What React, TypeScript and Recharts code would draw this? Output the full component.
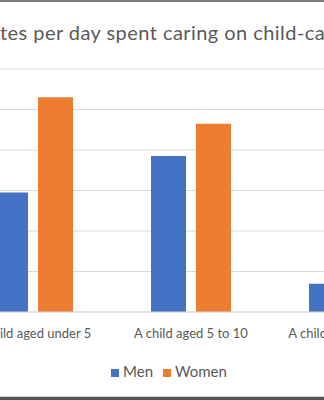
import React, { useMemo } from 'react';
import { BarChart, Bar, XAxis, YAxis, CartesianGrid, Legend } from 'recharts';

// values (minutes per day)
const categories = ['A child aged under 5', 'A child aged 5 to 10', 'A child aged 11 to 15'];
const menMinutes = [59, 77, 14];
const womenMinutes = [106, 93, 25];
const yTicks = [0, 20, 40, 60, 80, 100, 120];
const title = 'Minutes per day spent caring on child-care activities';
const hiddenTitlePart = 'Minu';

const FONT = 'Lato, "Open Sans", sans-serif';
const TEXT = '#595959';
const GRID = '#d9d9d9';
const TITLE_SIZE = 20;
const TITLE_SPACING = 0.45;

const data = categories.map((name, i) => ({ name, Men: menMinutes[i], Women: womenMinutes[i] }));

export default function App() {
  // the screenshot is cropped: the start of the title sits just off the left edge
  const titleShift = useMemo(() => {
    const ctx = document.createElement('canvas').getContext('2d');
    if (!ctx) return 45;
    ctx.font = `${TITLE_SIZE}px Lato`;
    return ctx.measureText(hiddenTitlePart).width + hiddenTitlePart.length * TITLE_SPACING;
  }, []);

  return (
    <div style={{ position: 'fixed', left: 0, top: 0, width: 324, height: 400, overflow: 'hidden', background: '#fff' }}>
      <div style={{ position: 'absolute', left: 0, top: 0, width: 324, height: 2, background: '#7a7a7a' }} />
      <div
        style={{
          position: 'absolute', left: -titleShift, top: 21, whiteSpace: 'nowrap',
          fontFamily: FONT, fontSize: TITLE_SIZE, letterSpacing: TITLE_SPACING,
          lineHeight: '22px', color: TEXT,
        }}
      >
        {title}
      </div>
      <div style={{ position: 'absolute', left: -120, top: 0 }}>
        <BarChart
          width={568}
          height={400}
          data={data}
          margin={{ top: 69, right: 20, left: 24, bottom: 14 }}
          barGap={10}
        >
          <CartesianGrid vertical={false} stroke={GRID} />
          <XAxis
            dataKey="name"
            interval={0}
            height={50}
            tickLine={false}
            tickMargin={11}
            axisLine={{ stroke: GRID }}
            tick={{ fill: TEXT, fontSize: 13, fontFamily: FONT }}
          />
          <YAxis
            domain={[0, 120]}
            ticks={yTicks}
            width={50}
            axisLine={false}
            tickLine={false}
            tick={{ fill: TEXT, fontSize: 13, fontFamily: FONT }}
          />
          <Legend
            verticalAlign="bottom"
            height={24}
            iconType="square"
            iconSize={8}
            wrapperStyle={{ fontFamily: FONT, fontSize: 15, paddingLeft: 8 }}
            formatter={(value) => <span style={{ color: TEXT }}>{value}</span>}
          />
          <Bar dataKey="Men" fill="#4472C4" barSize={35} isAnimationActive={false} />
          <Bar dataKey="Women" fill="#ED7D31" barSize={35} isAnimationActive={false} />
        </BarChart>
      </div>
      <div style={{ position: 'absolute', left: 0, top: 396, width: 324, height: 1, background: '#d0d0d0' }} />
      <div style={{ position: 'absolute', left: 0, top: 397, width: 324, height: 3, background: '#555' }} />
    </div>
  );
}
